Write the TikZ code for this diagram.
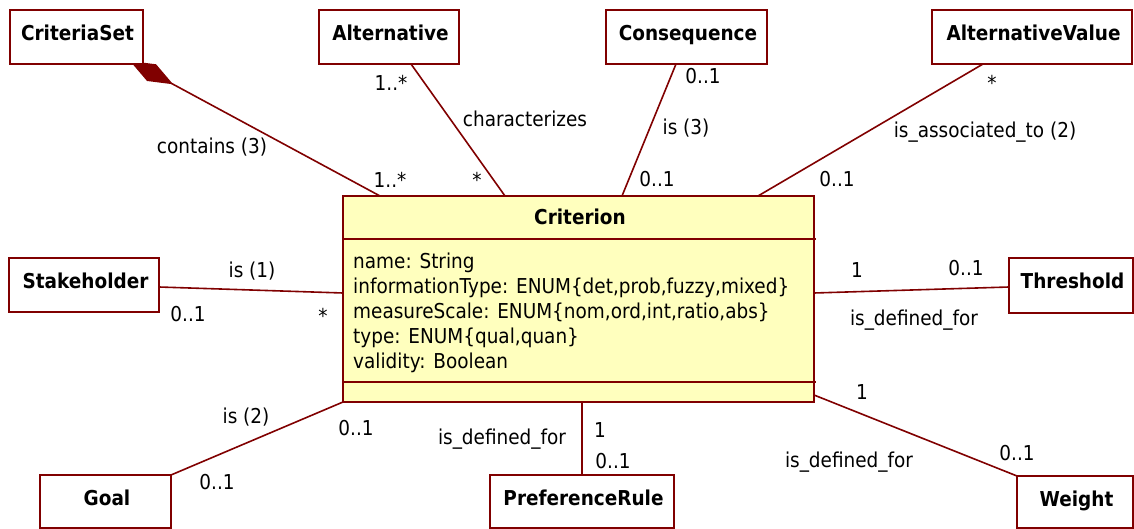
\documentclass[tikz,border=0pt]{standalone}
\usepackage{fontspec}
\setmainfont{DejaVu Sans}[FakeStretch=0.9]
\usetikzlibrary{arrows.meta}
\definecolor{umlred}{RGB}{128,0,0}
\definecolor{umlyellow}{RGB}{255,255,190}
\pgfdeclarelayer{bg}
\pgfsetlayers{bg,main}
\begin{document}
\begin{tikzpicture}[x=1pt,y=-1pt,
  font=\fontsize{20.5}{25}\selectfont,
  cls/.style={draw=umlred, line width=1.8pt, fill=white, inner sep=0pt, outer sep=0pt, minimum height=54pt},
  cname/.style={anchor=base, inner sep=0pt, font=\fontsize{20.5}{25}\selectfont\bfseries},
  attr/.style={anchor=base west, inner sep=0pt},
  lbl/.style={anchor=base, inner sep=0pt},
  assoc/.style={draw=umlred, line width=1.6pt},
]
\useasboundingbox (0,0) rectangle (1134,529);

% class boxes
\node[cls, minimum width=133pt] (cs) at (76.5,37) {};
\node[cname] (cst) at (77.5,41) {CriteriaSet};
\node[cls, minimum width=140pt] (alt) at (389,37) {};
\node[cname] (altt) at (390.5,41) {Alternative};
\node[cls, minimum width=161pt] (cons) at (686.5,37) {};
\node[cname] (const) at (688,41) {Consequence};
\node[cls, minimum width=200pt] (av) at (1032,37) {};
\node[cname] (avt) at (1033.5,41) {AlternativeValue};
\node[cls, minimum width=150pt] (sh) at (84,285) {};
\node[cname] (sht) at (85.5,288) {Stakeholder};
\node[cls, minimum width=124pt, minimum height=55pt] (th) at (1071,285.5) {};
\node[cname] (tht) at (1072.5,288) {Threshold};
\node[cls, minimum width=131pt, minimum height=53pt] (goal) at (105.5,501.5) {};
\node[cname] (goalt) at (107,505) {Goal};
\node[cls, minimum width=184pt, minimum height=53pt] (pr) at (582,501.5) {};
\node[cname] (prt) at (583.5,505) {PreferenceRule};
\node[cls, minimum width=116pt, minimum height=52pt] (wt) at (1075,502) {};
\node[cname] (wtt) at (1076.5,506) {Weight};

% Criterion class
\node[cls, fill=umlyellow, minimum width=471pt, minimum height=206pt] (crit) at (578.5,299) {};
\node[cname] (critt) at (580,225) {Criterion};
\draw[umlred, line width=1.6pt] (crit.west |- 0,239) -- ([xshift=2pt]crit.east |- 0,239);
\draw[umlred, line width=1.6pt] (crit.west |- 0,382) -- ([xshift=2pt]crit.east |- 0,382);
\node[attr] (a1) at (353,268) {name: String};
\node[attr] (a2) at (353,293) {informationType: ENUM\{det,prob,fuzzy,mixed\}};
\node[attr] (a3) at (353,318) {measureScale: ENUM\{nom,ord,int,ratio,abs\}};
\node[attr] (a4) at (353,343) {type: ENUM\{qual,quan\}};
\node[attr] (a5) at (353,368) {validity: Boolean};

% connectors
\begin{pgfonlayer}{bg}
\draw[assoc, {Diamond[length=49pt,width=19pt,fill=umlred]}-] ([xshift=-13pt,yshift=3pt]cs.south east) -- (380,0 |- crit.north);
\draw[assoc] (411,0 |- alt.south) -- (505,0 |- crit.north);
\draw[assoc] (676,0 |- cons.south) -- (622,0 |- crit.north);
\draw[assoc] (983,0 |- av.south) -- (758,0 |- crit.north);
\draw[assoc] (sh.east |- 0,287) -- (crit.west |- 0,293);
\draw[assoc] (goal.north east) -- (crit.south west);
\draw[assoc] (crit.east |- 0,293) -- (th.west |- 0,287);
\draw[assoc] (582,0 |- crit.south) -- (582,0 |- pr.north);
\draw[assoc] (crit.east |- 0,395) -- (wt.north west);
\end{pgfonlayer}

% labels
\node[lbl] (l1) at (212,154) {contains (3)};
\node[lbl] (l2) at (390,188) {1..*};
\node[lbl] (l3) at (391,91) {1..*};
\node[lbl] (l4) at (525,127) {characterizes};
\node[lbl] (l5) at (477,188) {*};
\node[lbl] (l6) at (703,84) {0..1};
\node[lbl] (l7) at (686,135) {is (3)};
\node[lbl] (l8) at (657,187) {0..1};
\node[lbl] (l9) at (992,91) {*};
\node[lbl] (l10) at (985,138) {is\_associated\_to (2)};
\node[lbl] (l11) at (837,187) {0..1};
\node[lbl] (l12) at (252,277) {is (1)};
\node[lbl] (l13) at (188,321) {0..1};
\node[lbl] (l14) at (323,323) {*};
\node[lbl] (l15) at (246,423) {is (2)};
\node[lbl] (l16) at (356,435) {0..1};
\node[lbl] (l17) at (217,489) {0..1};
\node[lbl] (l18) at (857,277) {1};
\node[lbl] (l19) at (966,276) {0..1};
\node[lbl] (l20) at (914,325) {is\_defined\_for};
\node[lbl] (l21) at (862,399) {1};
\node[lbl] (l22) at (849,467) {is\_defined\_for};
\node[lbl] (l23) at (1017,460) {0..1};
\node[lbl] (l24) at (502,444) {is\_defined\_for};
\node[lbl] (l25) at (600,437) {1};
\node[lbl] (l26) at (613,468) {0..1};
\end{tikzpicture}
\end{document}
